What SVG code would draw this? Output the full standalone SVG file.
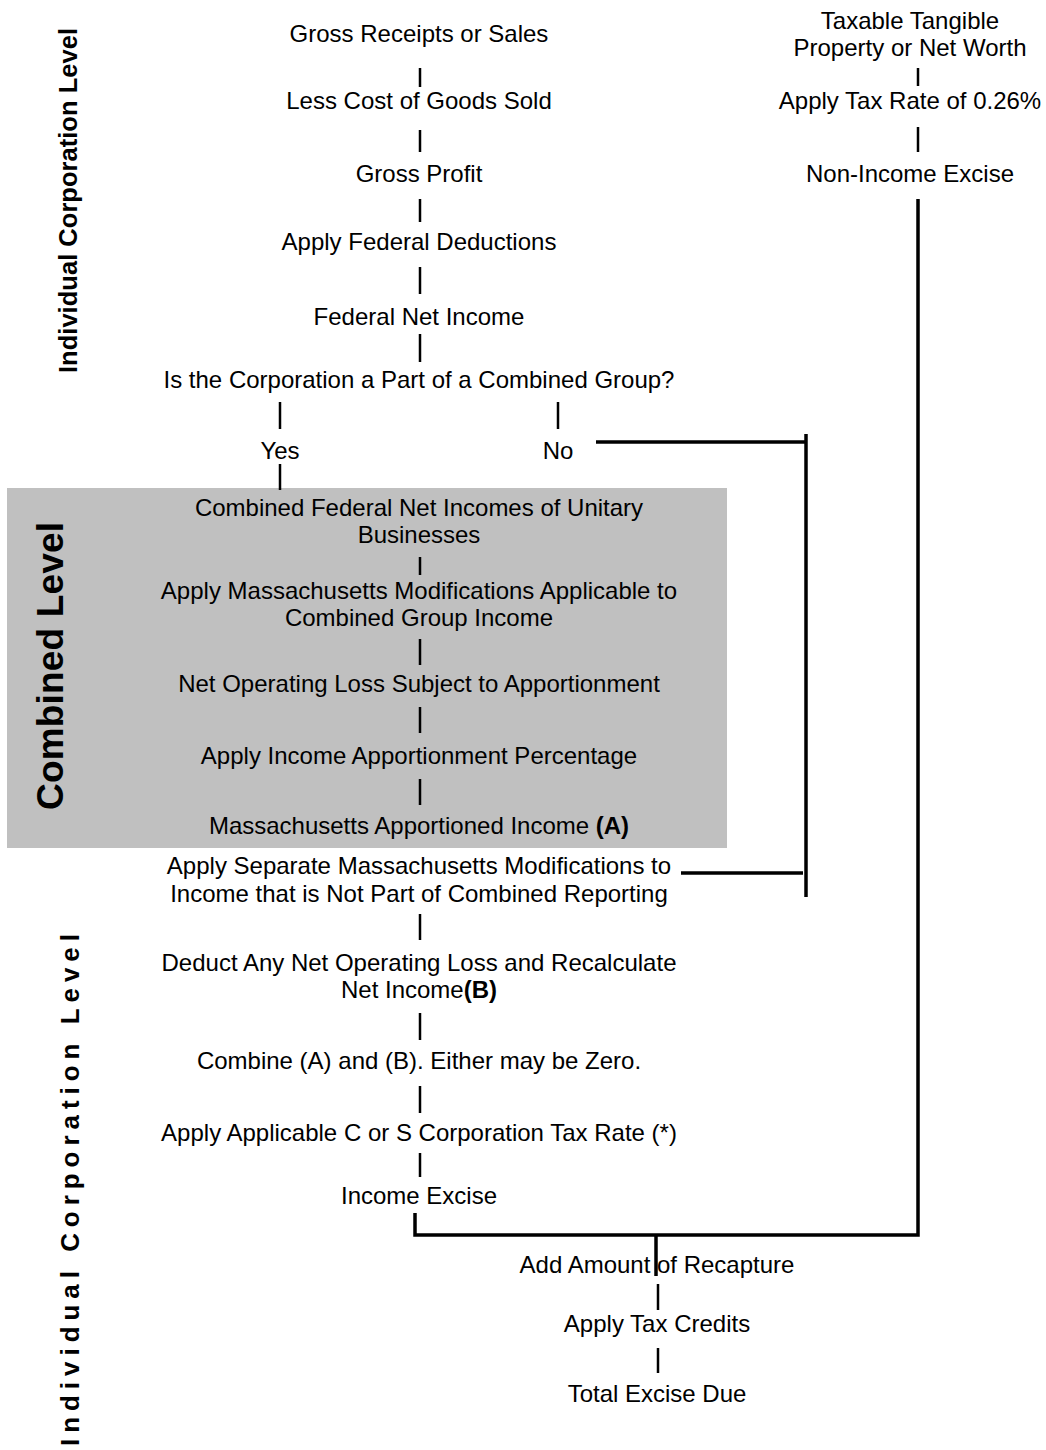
<svg xmlns="http://www.w3.org/2000/svg" width="1046" height="1450" viewBox="0 0 1046 1450">
<style>
text{font-family:"Liberation Sans",Arial,sans-serif;font-size:24px;fill:#000;text-anchor:middle}
.b{font-weight:bold}
.lvl{font-weight:bold;text-anchor:start}
.c line,.c path{stroke:#000;fill:none}
.s{stroke-width:2.5}
.t{stroke-width:3.5}
</style>
<rect id="combined-band" x="7" y="488" width="720" height="360" fill="#c0c0c0"/>
<g id="labels">
<text class="lvl" style="font-size:25.5px" transform="translate(77,373) rotate(-90)" textLength="345" lengthAdjust="spacing">Individual Corporation Level</text>
<text class="lvl" style="font-size:37px" transform="translate(63,810) rotate(-90)" textLength="288" lengthAdjust="spacing">Combined Level</text>
<text class="lvl" style="font-size:26px" transform="translate(79,1446) rotate(-90)" textLength="512" lengthAdjust="spacing">Individual Corporation Level</text>
</g>
<g class="c" id="connectors">
<line class="s" x1="420" y1="68" x2="420" y2="87"/>
<line class="s" x1="420" y1="130" x2="420" y2="152"/>
<line class="s" x1="420" y1="199" x2="420" y2="222"/>
<line class="s" x1="420" y1="267" x2="420" y2="294"/>
<line class="s" x1="420" y1="334" x2="420" y2="362"/>
<line class="s" x1="280" y1="402" x2="280" y2="429"/>
<line class="s" x1="558" y1="402" x2="558" y2="429"/>
<line class="s" x1="280" y1="464" x2="280" y2="490"/>
<line class="s" x1="420" y1="557" x2="420" y2="575"/>
<line class="s" x1="420" y1="639" x2="420" y2="665"/>
<line class="s" x1="420" y1="707" x2="420" y2="733"/>
<line class="s" x1="420" y1="779" x2="420" y2="805"/>
<line class="s" x1="420" y1="914" x2="420" y2="940"/>
<line class="s" x1="420" y1="1013" x2="420" y2="1040"/>
<line class="s" x1="420" y1="1086" x2="420" y2="1113"/>
<line class="s" x1="420" y1="1153" x2="420" y2="1177"/>
<line class="s" x1="658" y1="1284" x2="658" y2="1310"/>
<line class="s" x1="658" y1="1348" x2="658" y2="1373"/>
<line class="s" x1="918" y1="68" x2="918" y2="86"/>
<line class="s" x1="918" y1="127" x2="918" y2="152"/>
<line class="t" x1="596" y1="442" x2="806" y2="442"/>
<line class="t" x1="806" y1="434" x2="806" y2="897"/>
<line class="t" x1="681" y1="873" x2="803" y2="873"/>
<path class="t" d="M415,1213 V1235 H918 V199"/>
<line class="t" x1="656" y1="1235" x2="656" y2="1276"/>
</g>
<g id="n-gross"><text x="419" y="41.5">Gross Receipts or Sales</text></g>
<g id="n-cogs"><text x="419" y="109">Less Cost of Goods Sold</text></g>
<g id="n-profit"><text x="419" y="181.5">Gross Profit</text></g>
<g id="n-fed-ded"><text x="419" y="249.5">Apply Federal Deductions</text></g>
<g id="n-fni"><text x="419" y="325">Federal Net Income</text></g>
<g id="n-question"><text x="419" y="388">Is the Corporation a Part of a Combined Group?</text></g>
<g id="n-yes"><text x="280" y="458.5">Yes</text></g>
<g id="n-no"><text x="558" y="458.5">No</text></g>
<g id="n-combined-fni"><text x="419" y="515.5">Combined Federal Net Incomes of Unitary</text><text x="419" y="542.5">Businesses</text></g>
<g id="n-mass-mods"><text x="419" y="598.5">Apply Massachusetts Modifications Applicable to</text><text x="419" y="625.5">Combined Group Income</text></g>
<g id="n-nol-app"><text x="419" y="691.5">Net Operating Loss Subject to Apportionment</text></g>
<g id="n-app-pct"><text x="419" y="763.5">Apply Income Apportionment Percentage</text></g>
<g id="n-mass-app"><text x="419" y="834">Massachusetts Apportioned Income <tspan class="b">(A)</tspan></text></g>
<g id="n-sep-mods"><text x="419" y="873.5">Apply Separate Massachusetts Modifications to</text><text x="419" y="901.5">Income that is Not Part of Combined Reporting</text></g>
<g id="n-deduct-nol"><text x="419" y="970.5">Deduct Any Net Operating Loss and Recalculate</text><text x="419" y="997.5">Net Income<tspan class="b">(B)</tspan></text></g>
<g id="n-combine"><text x="419" y="1068.5">Combine (A) and (B). Either may be Zero.</text></g>
<g id="n-rate"><text x="419" y="1140.5">Apply Applicable C or S Corporation Tax Rate (*)</text></g>
<g id="n-income-excise"><text x="419" y="1203.5">Income Excise</text></g>
<g id="n-recapture"><text x="657" y="1272.5">Add Amount of Recapture</text></g>
<g id="n-credits"><text x="657" y="1331.5">Apply Tax Credits</text></g>
<g id="n-total"><text x="657" y="1401.5">Total Excise Due</text></g>
<g id="n-property"><text x="910" y="28.5">Taxable Tangible</text><text x="910" y="55.5">Property or Net Worth</text></g>
<g id="n-tax-rate"><text x="910" y="108.6">Apply Tax Rate of 0.26%</text></g>
<g id="n-non-income"><text x="910" y="181.5">Non-Income Excise</text></g>
</svg>
